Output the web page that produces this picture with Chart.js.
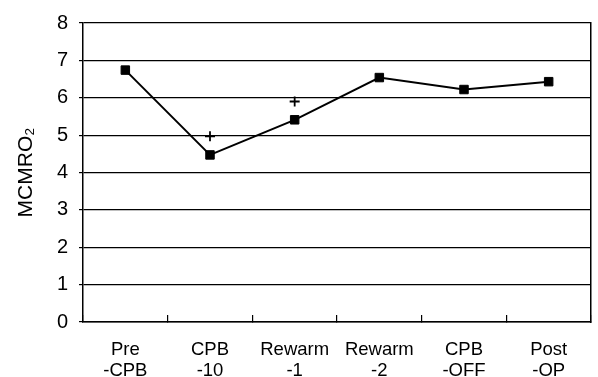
<!DOCTYPE html>
<html>
<head>
<meta charset="utf-8">
<script src="https://cdn.jsdelivr.net/npm/chart.js@4/dist/chart.umd.min.js"></script>
<style>
html,body{margin:0;padding:0;background:#fff;}
canvas{display:block;}
</style>
</head>
<body>
<canvas id="c" width="598" height="377"></canvas>
<script>
const categories = [['Pre','-CPB'],['CPB','-10'],['Rewarm','-1'],['Rewarm','-2'],['CPB','-OFF'],['Post','-OP']];
const mcmro2Values = [6.74, 4.47, 5.41, 6.54, 6.22, 6.43];
const significanceMarks = [null, 4.97, 5.90, null, null, null];
const yTicks = [0,1,2,3,4,5,6,7,8];
const yTitle = 'MCMRO₂';

const FONT = '"Liberation Sans", Arial, sans-serif';

new Chart(document.getElementById('c'), {
  type: 'line',
  data: {
    labels: categories,
    datasets: [
      {
        data: mcmro2Values,
        borderColor: '#000',
        backgroundColor: '#000',
        borderWidth: 2,
        pointStyle: 'rect',
        pointRadius: 6,
        pointBorderWidth: 1,
        tension: 0
      },
      {
        data: significanceMarks,
        showLine: false,
        borderColor: '#000',
        backgroundColor: '#000',
        pointStyle: 'cross',
        pointRadius: 5,
        pointBorderWidth: 1.8
      }
    ]
  },
  options: {
    responsive: false,
    devicePixelRatio: 1,
    animation: false,
    layout: { padding: { top: 20, right: 0, left: 0, bottom: 0 } },
    plugins: { legend: { display: false }, tooltip: { enabled: false } },
    scales: {
      x: {
        type: 'category',
        offset: true,
        grid: { offset: true, drawOnChartArea: false, drawTicks: true, tickLength: -7, color: '#000', lineWidth: 1.2 },
        border: { display: true, color: '#000', width: 1.5 },
        ticks: { color: '#000', font: { family: FONT, size: 18.5, lineHeight: 1.15 }, padding: 24, maxRotation: 0, autoSkip: false },
        afterFit: (s) => { s.height = 55; }
      },
      y: {
        min: 0, max: 8,
        afterBuildTicks: (s) => { s.ticks = yTicks.map(v => ({ value: v })); },
        grid: { color: '#000', lineWidth: 1.2, tickLength: 4 },
        border: { display: true, color: '#000', width: 1.5 },
        ticks: { color: '#000', font: { family: FONT, size: 20 }, padding: 11 },
        title: { display: true, text: yTitle, color: '#000', font: { family: FONT, size: 21 }, padding: { top: 14, bottom: 0 } },
        afterFit: (s) => { s.width = 83; }
      },
      y2: {
        position: 'right',
        min: 0, max: 8,
        grid: { drawOnChartArea: false, drawTicks: false },
        border: { display: true, color: '#000', width: 1.5 },
        ticks: { display: false },
        afterFit: (s) => { s.width = 1; }
      }
    }
  }
});
</script>
</body>
</html>
